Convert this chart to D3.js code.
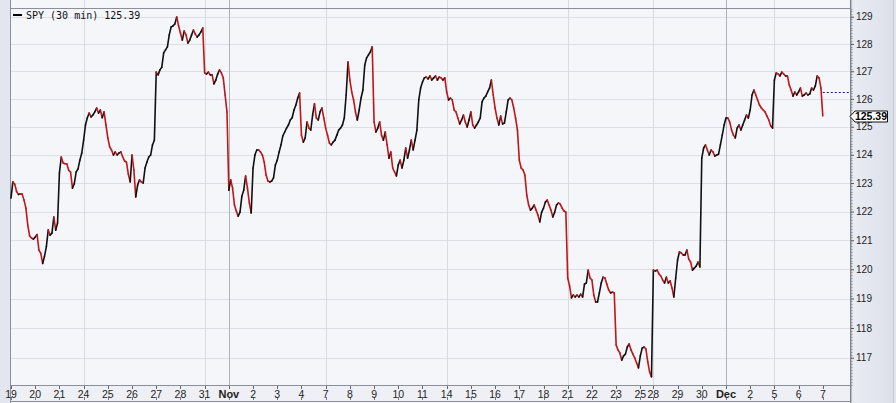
<!DOCTYPE html>
<html><head><meta charset="utf-8">
<script src="https://cdn.jsdelivr.net/npm/d3@7"></script>
<style>html,body{margin:0;padding:0;background:#fff;overflow:hidden}</style>
</head><body><svg id="c" width="896" height="403"></svg>
<script>
// ---------- data ----------
const title = "SPY (30 min)";
const lastValue = 125.39;
const refLevel = 126.25;
const dayLabels = ["19","20","21","24","25","26","27","28","31","Nov","2","3","4","7","8","9","10","11","14","15","16","17","18","21","22","23","25","28","29","30","Dec","2","5","6","7"];
const dayBars = [13,13,13,13,13,13,13,13,13,13,13,13,13,13,13,13,13,13,13,13,13,13,13,13,13,13,7,13,13,13,13,13,13,13,1];
const mondayDays = [3,8,13,18,23,27,32];
const monthDays = [9,30];
const yTicks = [117,118,119,120,121,122,123,124,125,126,127,128,129];
const closes = [
122.47,123.04,122.96,122.70,122.60,122.62,122.61,122.40,122.12,121.53,121.15,121.08,121.04,
121.11,121.20,120.66,120.55,120.20,120.45,120.78,121.36,121.18,121.25,121.81,121.35,121.60,
123.35,123.92,123.71,123.68,123.67,123.45,123.39,122.82,122.98,123.39,123.50,123.81,124.06,
124.52,125.06,125.32,125.49,125.35,125.42,125.53,125.67,125.49,125.60,125.32,125.53,125.06,
124.60,124.28,124.17,123.99,124.10,123.99,124.06,124.10,123.92,123.78,123.74,123.32,123.04,
123.99,123.46,122.51,122.93,123.11,123.04,123.00,123.53,123.74,123.92,123.99,124.35,124.52,
126.97,126.87,127.05,127.15,127.67,127.78,127.89,128.33,128.62,128.66,128.73,128.99,128.66,
128.40,128.14,128.47,128.33,128.03,128.14,128.33,128.51,128.36,128.25,128.33,128.44,128.58,
126.94,126.90,126.97,126.87,126.87,126.54,126.68,126.90,127.05,126.94,126.76,126.14,125.53,
122.75,123.11,122.82,122.23,122.02,121.84,121.98,122.54,122.75,123.25,122.82,122.30,121.95,
123.53,123.99,124.17,124.17,124.10,123.99,123.74,123.28,123.07,123.04,123.07,123.18,123.64,
123.81,124.10,124.35,124.67,124.81,124.95,125.06,125.24,125.32,125.60,125.78,126.03,126.21,
124.70,124.45,124.60,125.17,124.95,124.88,125.42,125.82,125.31,125.24,125.53,125.67,125.31,
124.95,124.70,124.42,124.35,124.45,124.52,124.70,124.88,124.95,125.06,125.31,126.14,127.34,
126.68,126.25,125.96,125.53,125.24,125.60,126.03,126.32,127.23,127.49,127.60,127.70,127.89,
125.17,124.81,124.95,125.17,124.70,124.52,124.81,124.35,123.88,124.10,123.53,123.39,123.25,
123.64,123.81,123.53,123.81,124.24,123.88,124.17,124.52,124.17,124.52,124.88,125.96,126.39,
126.61,126.76,126.79,126.72,126.83,126.68,126.76,126.83,126.68,126.79,126.76,126.68,126.76,
126.25,125.96,126.03,125.96,125.60,125.53,125.31,125.10,125.24,125.42,125.17,124.99,125.24,
125.53,125.06,124.95,125.06,125.17,125.31,125.89,126.03,126.10,126.25,126.39,126.68,126.14,
125.67,125.31,125.06,125.38,125.10,125.13,125.53,125.96,126.03,125.96,125.67,125.31,124.88,
123.81,123.53,123.46,123.28,122.58,122.23,122.05,122.12,122.23,122.05,121.88,121.64,121.98,
122.12,122.33,122.40,122.23,122.05,121.81,121.98,122.23,122.30,122.26,122.12,122.02,121.98,
119.70,119.43,119.02,119.12,119.05,119.12,119.05,119.15,119.05,119.49,119.53,119.97,119.70,
119.63,119.12,118.88,118.88,119.19,119.53,119.73,119.70,119.49,119.29,119.19,119.22,119.19,
117.43,117.26,117.16,116.92,117.06,117.12,117.36,117.46,117.26,117.12,116.99,116.82,116.66,
117.06,117.32,117.36,117.29,116.86,116.52,116.36,
119.97,119.94,119.97,119.84,119.77,119.63,119.53,119.73,119.53,119.60,119.36,119.05,119.70,
120.32,120.60,120.56,120.49,120.49,120.66,120.35,120.25,119.97,120.04,120.11,120.25,120.08,
123.88,124.24,124.35,124.17,123.99,124.17,124.10,123.95,123.99,124.02,124.35,124.70,125.06,
125.31,125.31,125.17,124.88,124.70,124.60,124.95,125.06,124.88,125.06,125.24,125.42,125.31,
125.60,126.14,126.32,126.14,125.96,125.78,125.67,125.60,125.53,125.38,125.24,125.03,124.95,
126.68,126.94,126.90,126.83,126.97,126.90,126.83,126.83,126.50,126.32,126.10,126.25,126.14,
126.25,126.39,126.10,126.14,126.21,126.14,126.18,126.39,126.32,126.47,126.83,126.76,126.39,
125.39
];

// ---------- layout ----------
const P = {left:10, right:850, top:8, bottom:385};
const svg = d3.select("#c");
const x = d3.scaleLinear().domain([0, closes.length - 1]).range([11, 822.8]);
const y = d3.scaleLog().domain([117, 129]).range([357.7, 16.7]);
const dayStart = dayBars.reduce((a, b, i) => { a.push(i ? a[i-1] + dayBars[i-1] : 0); return a; }, []);

const defs = svg.append("defs");
const g1 = defs.append("linearGradient").attr("id","gut").attr("x1","0").attr("x2","1");
g1.append("stop").attr("offset","0").attr("stop-color","#E9ECF3");
g1.append("stop").attr("offset","1").attr("stop-color","#DCE0E9");
defs.append("clipPath").attr("id","clip").append("rect")
  .attr("x",P.left).attr("y",P.top).attr("width",P.right-P.left).attr("height",P.bottom-P.top);

// backgrounds
svg.append("rect").attr("width",896).attr("height",403).attr("fill","#E3E6EE");
svg.append("rect").attr("x",P.left).attr("y",0).attr("width",P.right-P.left).attr("height",P.bottom).attr("fill","#F5F6FA");
svg.append("rect").attr("x",P.left).attr("y",P.bottom).attr("width",P.right-P.left).attr("height",16).attr("fill","#EEF0F5");
svg.append("rect").attr("x",P.left).attr("y",401).attr("width",P.right-P.left).attr("height",2).attr("fill","#F5F6FA");
svg.append("rect").attr("x",853).attr("y",0).attr("width",40).attr("height",403).attr("fill","url(#gut)");
svg.append("line").attr("x1",893.5).attr("x2",893.5).attr("y1",0).attr("y2",403).attr("stroke","#C5CAD4");

// grid
svg.append("g").selectAll("line").data(yTicks).join("line")
  .attr("x1",P.left).attr("x2",P.right)
  .attr("y1",d=>Math.round(y(d))+0.5).attr("y2",d=>Math.round(y(d))+0.5)
  .attr("stroke","#DCDFE6");
svg.append("g").selectAll("line").data(mondayDays).join("line")
  .attr("x1",d=>Math.round(x(dayStart[d]))+0.5).attr("x2",d=>Math.round(x(dayStart[d]))+0.5)
  .attr("y1",0).attr("y2",P.bottom).attr("stroke","#D8DBE2");
svg.append("g").selectAll("line").data(monthDays).join("line")
  .attr("x1",d=>Math.round(x(dayStart[d]))+0.5).attr("x2",d=>Math.round(x(dayStart[d]))+0.5)
  .attr("y1",0).attr("y2",P.bottom).attr("stroke","#ADB1B9");

// frame
const frame = svg.append("g").attr("stroke","#8A8F99").attr("fill","none");
frame.append("line").attr("x1",P.left).attr("x2",P.right).attr("y1",P.top+0.5).attr("y2",P.top+0.5);
frame.append("line").attr("x1",P.left).attr("x2",P.right+1).attr("y1",P.bottom+0.5).attr("y2",P.bottom+0.5);
frame.append("line").attr("x1",P.left+0.5).attr("x2",P.left+0.5).attr("y1",0).attr("y2",403);
frame.append("line").attr("x1",P.left).attr("x2",P.right).attr("y1",401.5).attr("y2",401.5);
svg.append("line").attr("x1",P.right+0.5).attr("x2",P.right+0.5).attr("y1",0).attr("y2",403).attr("stroke","#7E838D");
svg.append("line").attr("x1",P.right+1.5).attr("x2",P.right+1.5).attr("y1",0).attr("y2",403).attr("stroke","#B9BEC8");

// price line, segments coloured by direction
const segs = d3.range(1, closes.length).map(i => ({i, up: closes[i] >= closes[i-1]}));
svg.append("g").attr("clip-path","url(#clip)").selectAll("line").data(segs).join("line")
  .attr("x1",d=>x(d.i-1)).attr("y1",d=>y(closes[d.i-1]))
  .attr("x2",d=>x(d.i)).attr("y2",d=>y(closes[d.i]))
  .attr("stroke",d=>d.up ? "#111111" : "#C01619")
  .attr("stroke-width",1.6).attr("stroke-linecap","round");

// reference dashed line
svg.append("line").attr("x1",x(closes.length-1)).attr("x2",P.right)
  .attr("y1",Math.round(y(refLevel))+0.5).attr("y2",Math.round(y(refLevel))+0.5)
  .attr("stroke","#1B1F5E").attr("stroke-dasharray","2,2");

// right axis
const yAxis = d3.axisRight(y).tickValues(yTicks).tickFormat(d3.format("d")).tickSize(3).tickPadding(2);
const ya = svg.append("g").attr("transform",`translate(${P.right+1},0)`).call(yAxis);
ya.select(".domain").remove();
ya.selectAll("line").attr("stroke","#555");
ya.selectAll("text").attr("font-family","'Liberation Sans', Arial, sans-serif").attr("font-size","10px").attr("fill","#1E1E1E");
const minor = d3.range(1161, 1294).map(v => v/10).filter(v => Math.round(v*10) % 10 !== 0);
svg.append("g").selectAll("line").data(minor).join("line")
  .attr("x1",P.right+1).attr("x2",P.right+2.5)
  .attr("y1",d=>Math.round(y(d))+0.5).attr("y2",d=>Math.round(y(d))+0.5)
  .attr("stroke","#8E939C");

// last value tag
const ty = Math.round(y(lastValue)) + 0.5;
svg.append("path")
  .attr("d",`M${P.right},${ty} L${P.right+5},${ty-5.5} L887.5,${ty-5.5} L887.5,${ty+5.5} L${P.right+5},${ty+5.5} Z`)
  .attr("fill","#FFFFFF").attr("stroke","#111").attr("stroke-width",1);
svg.append("text").attr("x",871).attr("y",ty).attr("dy","0.36em").attr("text-anchor","middle")
  .attr("font-family","'Liberation Sans', Arial, sans-serif").attr("font-size","10.5px").attr("font-weight","bold")
  .attr("fill","#000").text(d3.format(".2f")(lastValue));

// bottom axis
const xa = svg.append("g");
xa.selectAll("line.t1").data(dayLabels).join("line").attr("class","t1")
  .attr("x1",(d,i)=>Math.round(x(dayStart[i]))+0.5).attr("x2",(d,i)=>Math.round(x(dayStart[i]))+0.5)
  .attr("y1",P.bottom+1).attr("y2",P.bottom+4).attr("stroke","#666");
xa.selectAll("line.t2").data(dayLabels).join("line").attr("class","t2")
  .attr("x1",(d,i)=>Math.round(x(dayStart[i]))+0.5).attr("x2",(d,i)=>Math.round(x(dayStart[i]))+0.5)
  .attr("y1",397).attr("y2",400).attr("stroke","#777");
xa.selectAll("text").data(dayLabels).join("text")
  .attr("x",(d,i)=>x(dayStart[i])).attr("y",397.5).attr("text-anchor","middle")
  .attr("font-family","'Liberation Sans', Arial, sans-serif")
  .attr("font-size",d=>isNaN(+d) ? "11px" : "10.5px")
  .attr("font-weight",d=>isNaN(+d) ? "bold" : "normal")
  .attr("fill","#1E1E1E").text(d=>d);

// legend
svg.append("line").attr("x1",13).attr("x2",22).attr("y1",15).attr("y2",15).attr("stroke","#000").attr("stroke-width",2);
svg.append("text").attr("x",26).attr("y",15).attr("dy","0.35em")
  .attr("font-family","'DejaVu Sans Mono', monospace").attr("font-size","10px").attr("fill","#111")
  .text(`${title} ${d3.format(".2f")(lastValue)}`);
</script>
</body></html>
